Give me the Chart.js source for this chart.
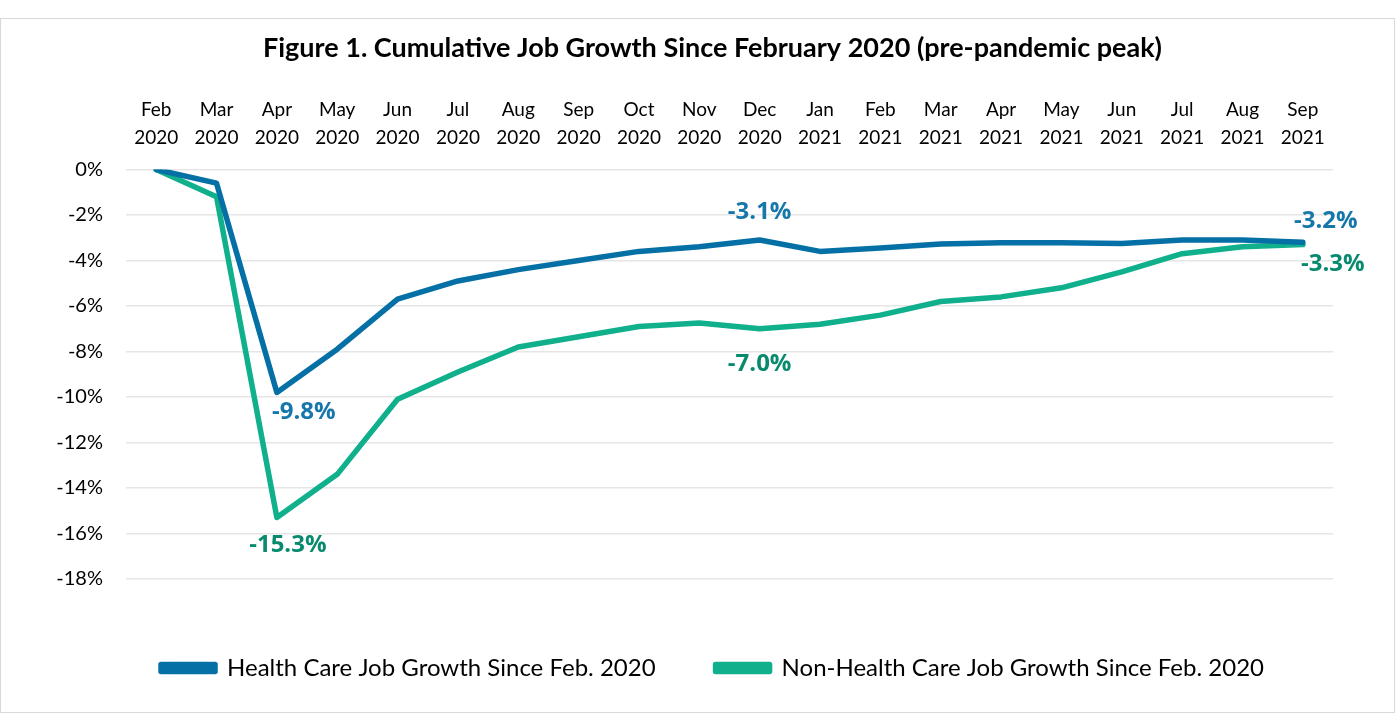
<!DOCTYPE html>
<html>
<head>
<meta charset="utf-8">
<script src="https://cdn.jsdelivr.net/npm/chart.js@4.4.1/dist/chart.umd.min.js"></script>
<style>
  html, body { margin: 0; padding: 0; background: #fff; }
  #wrap {
    position: absolute; left: 0; top: 18px;
    width: 1393px; height: 693px;
    border: 1px solid #d9d9d9;
  }
</style>
</head>
<body>
<div id="wrap"><canvas id="chart"></canvas></div>
<script>
// ── Data ───────────────────────────────────────────────────────────────────
const months = [
  ['Feb', '2020'], ['Mar', '2020'], ['Apr', '2020'], ['May', '2020'], ['Jun', '2020'],
  ['Jul', '2020'], ['Aug', '2020'], ['Sep', '2020'], ['Oct', '2020'], ['Nov', '2020'],
  ['Dec', '2020'], ['Jan', '2021'], ['Feb', '2021'], ['Mar', '2021'], ['Apr', '2021'],
  ['May', '2021'], ['Jun', '2021'], ['Jul', '2021'], ['Aug', '2021'], ['Sep', '2021'],
];

const healthCare = [0, -0.6, -9.8, -7.9, -5.7, -4.9, -4.4, -4.0, -3.6, -3.4,
                    -3.1, -3.6, -3.45, -3.27, -3.22, -3.22, -3.25, -3.1, -3.1, -3.2];

const nonHealthCare = [0, -1.2, -15.3, -13.4, -10.1, -8.9, -7.8, -7.35, -6.9, -6.75,
                       -7.0, -6.8, -6.4, -5.8, -5.6, -5.2, -4.5, -3.7, -3.4, -3.3];

// callouts: [series index, point index, text]
const callouts = [
  [0, 2, '-9.8%'], [0, 10, '-3.1%'], [0, 19, '-3.2%'],
  [1, 2, '-15.3%'], [1, 10, '-7.0%'], [1, 19, '-3.3%'],
];

// ── Styles ─────────────────────────────────────────────────────────────────
const BLUE        = '#0570a6';
const GREEN       = '#10b08d';
const BLUE_LABEL  = '#1677ab';
const GREEN_LABEL = '#078a6e';
const FONT        = 'Lato, "Noto Sans", sans-serif';

// offset of each callout from its point, same order as callouts
const calloutOffsets = [[27, 20], [0, -28], [23, -21], [11, 28], [0, 35], [30, 20]];

const calloutPlugin = {
  id: 'callouts',
  afterDatasetsDraw(chart) {
    const { ctx } = chart;
    const x = chart.scales.x, y = chart.scales.y;
    ctx.save();
    ctx.font = 'bold 24px "Open Sans", sans-serif';
    ctx.textAlign = 'center';
    ctx.textBaseline = 'middle';
    callouts.forEach(([ds, i, txt], k) => {
      const v = chart.data.datasets[ds].data[i];
      const [dx, dy] = calloutOffsets[k];
      ctx.fillStyle = ds === 0 ? BLUE_LABEL : GREEN_LABEL;
      ctx.fillText(txt, x.getPixelForValue(i) + dx, y.getPixelForValue(v) + dy);
    });
    ctx.restore();
  }
};

new Chart(document.getElementById('chart'), {
  type: 'line',
  data: {
    labels: months,
    datasets: [
      {
        label: 'Health Care Job Growth Since Feb. 2020',
        data: healthCare,
        borderColor: BLUE,
        backgroundColor: BLUE,
        borderWidth: 5.5,
        pointRadius: 0,
        tension: 0,
        borderJoinStyle: 'round',
        borderCapStyle: 'round',
      },
      {
        label: 'Non-Health Care Job Growth Since Feb. 2020',
        data: nonHealthCare,
        borderColor: GREEN,
        backgroundColor: GREEN,
        borderWidth: 5.5,
        pointRadius: 0,
        tension: 0,
        borderJoinStyle: 'round',
        borderCapStyle: 'round',
      },
    ],
  },
  options: {
    responsive: true,
    maintainAspectRatio: false,
    animation: false,
    layout: { padding: { left: 30, right: 0, top: 0, bottom: 22 } },
    plugins: {
      title: {
        display: true,
        text: 'Figure 1. Cumulative Job Growth Since February 2020 (pre-pandemic peak)',
        color: '#000',
        font: { family: FONT, size: 27, weight: 'bold' },
        padding: { top: 13, bottom: 22 },
      },
      legend: {
        position: 'bottom',
        labels: {
          color: '#000',
          font: { family: FONT, size: 24 },
          boxWidth: 54,
          boxHeight: 7,
          padding: 60,
        },
      },
      tooltip: { enabled: false },
    },
    scales: {
      x: {
        position: 'top',
        offset: true,
        grid: { display: false },
        border: { display: false },
        ticks: {
          color: '#000',
          font: { family: FONT, size: 19, lineHeight: 1.45 },
          padding: 10,
          maxRotation: 0,
          autoSkip: false,
        },
      },
      y: {
        min: -18,
        max: 0,
        grid: { color: '#e6e6e6', lineWidth: 1.5, drawTicks: false },
        border: { display: false },
        afterFit: s => { s.width = 95; },
        ticks: {
          stepSize: 2,
          color: '#000',
          padding: 23,
          font: { family: FONT, size: 20 },
          callback: v => v + '%',
        },
      },
      gap: {
        type: 'linear',
        position: 'bottom',
        display: true,
        grid: { display: false },
        border: { display: false },
        ticks: { display: false },
        afterFit: s => { s.height = 17; },
      },
      gapRight: {
        type: 'linear',
        position: 'right',
        display: true,
        grid: { display: false },
        border: { display: false },
        ticks: { display: false },
        afterFit: s => { s.width = 61; },
      },
    },
  },
  plugins: [calloutPlugin],
});
</script>
</body>
</html>
